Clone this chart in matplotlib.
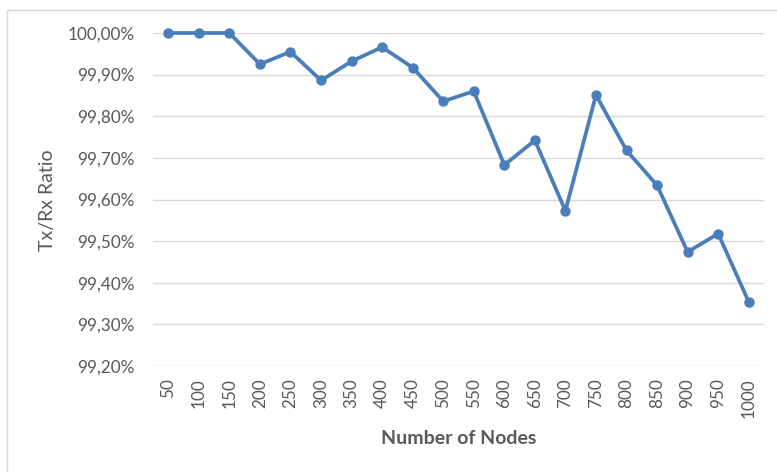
import matplotlib
matplotlib.use("Agg")
import matplotlib.pyplot as plt
from matplotlib.ticker import FuncFormatter
from matplotlib.patches import Rectangle

nodes = ["50", "100", "150", "200", "250", "300", "350", "400", "450", "500",
         "550", "600", "650", "700", "750", "800", "850", "900", "950", "1000"]
ratio = [100.00, 100.00, 100.00, 99.925, 99.955, 99.886, 99.932, 99.966, 99.917, 99.836,
         99.860, 99.683, 99.742, 99.573, 99.851, 99.718, 99.634, 99.474, 99.518, 99.354]
yticks = [99.2, 99.3, 99.4, 99.5, 99.6, 99.7, 99.8, 99.9, 100.0]

plt.rcParams['font.family'] = ['Lato', 'DejaVu Sans']

W, H = 777, 472
fig = plt.figure(figsize=(W / 100, H / 100), dpi=100)
fig.patches.append(Rectangle((7 / W, -0.01), 1.02 - 7 / W, 1 - 10 / H + 0.01,
                             transform=fig.transFigure, fill=False,
                             edgecolor='#D9D9D9', linewidth=1))

left, right, top, bottom = 153, 764, 33, 366
ax = fig.add_axes([left / W, 1 - bottom / H, (right - left) / W, (bottom - top) / H])

x = list(range(len(nodes)))
ax.plot(x, ratio, color='#4A7EBB', linewidth=2.7, marker='o', markersize=6.5,
        markerfacecolor='#4A7EBB', markeredgecolor='#4A7EBB', zorder=3, clip_on=False)

ax.set_xlim(-0.5, len(nodes) - 0.5)
ax.set_ylim(99.2, 100.0)
ax.set_yticks(yticks)
ax.yaxis.set_major_formatter(FuncFormatter(lambda v, p: f"{v:.2f}".replace('.', ',') + '%'))
ax.set_xticks(x)
ax.set_xticklabels(nodes, rotation=90)

ax.grid(axis='y', color='#D9D9D9', linewidth=1)
ax.set_axisbelow(True)
for s in ax.spines.values():
    s.set_visible(False)
ax.tick_params(axis='both', length=0, colors='#595959', labelsize=12.3)
ax.tick_params(axis='y', pad=13)
ax.tick_params(axis='x', pad=9)

fig.text(48 / W, 1 - 200 / H, 'Tx/Rx Ratio', rotation=90, fontsize=14, color='#595959',
         ha='center', va='center')
fig.text(459 / W, 1 - 439 / H, 'Number of Nodes', fontsize=14, color='#595959',
         fontweight='bold', ha='center', va='center')

fig.savefig('out.png', dpi=100)
